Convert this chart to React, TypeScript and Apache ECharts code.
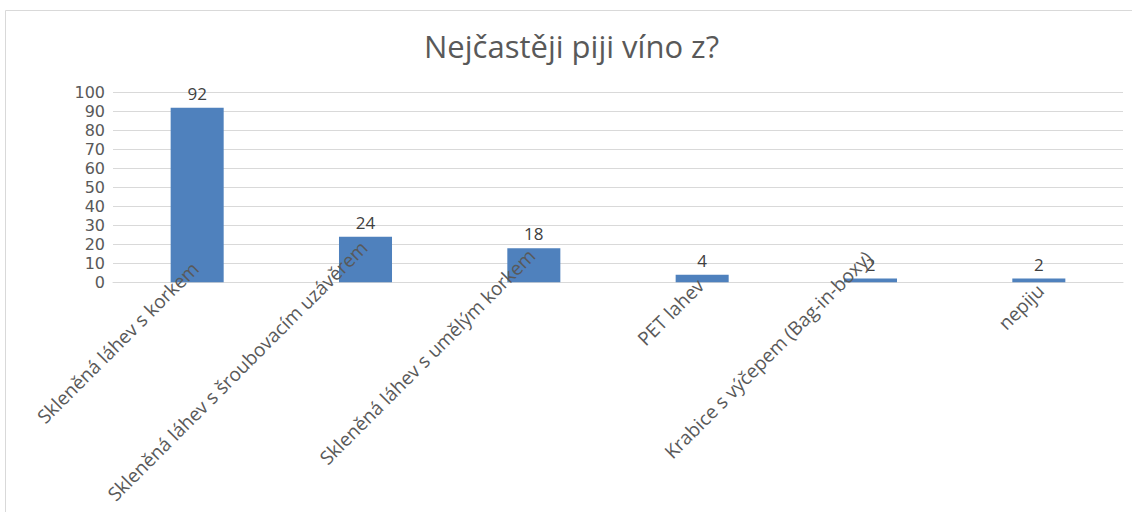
import React, { useEffect, useRef } from "react";
import * as echarts from "echarts";

const chartTitle = "Nejčastěji piji víno z?";
const categories = [
  "Skleněná láhev s korkem",
  "Skleněná láhev s šroubovacím uzávěrem",
  "Skleněná láhev s umělým korkem",
  "PET lahev",
  "Krabice s výčepem (Bag-in-boxy)",
  "nepiju",
];
const values = [92, 24, 18, 4, 2, 2];
const yMin = 0;
const yMax = 100;
const yStep = 10;

// layout: where each rotated category label ends, relative to its tick on the axis (px)
const labelDx = [-2, -1.5, -2, -1.6, -2, 1.7];
const labelDy = [-17, -38, -30, 0, -28, 5];

const FONT = "Open Sans";
const GREY = "#595959";

export default function App() {
  const ref = useRef<HTMLDivElement>(null);
  useEffect(() => {
    const chart = echarts.init(ref.current!, null, { renderer: "svg" });
    chart.setOption({
      animation: false,
      backgroundColor: "#ffffff",
      title: {
        text: chartTitle,
        left: 424,
        top: 30,
        padding: 0,
        textStyle: {
          fontFamily: FONT,
          fontSize: 31,
          fontWeight: "normal",
          color: GREY,
        },
      },
      graphic: [
        {
          type: "rect",
          shape: { x: 5.5, y: 10.5, width: 1200, height: 600 },
          style: { fill: "none", stroke: "#d9d9d9", lineWidth: 1 },
          silent: true,
        },
      ],
      grid: {
        left: 113,
        right: 9,
        top: 92.5,
        bottom: 229.7,
        containLabel: false,
        outerBoundsMode: "none",
      },
      xAxis: {
        type: "category",
        data: categories,
        axisLine: { show: true, lineStyle: { color: "#d9d9d9", width: 1 } },
        axisTick: { show: false },
        axisLabel: { show: false },
      },
      yAxis: {
        type: "value",
        min: yMin,
        max: yMax,
        interval: yStep,
        axisLine: { show: false },
        axisTick: { show: false },
        splitLine: { lineStyle: { color: "#d9d9d9", width: 1 } },
        axisLabel: {
          margin: 8,
          fontFamily: "DejaVu Sans",
          fontSize: 16,
          lineHeight: 15,
          color: GREY,
        },
      },
      series: [
        {
          type: "bar",
          data: values,
          barWidth: "31.5%",
          itemStyle: { color: "#4f81bd" },
          z: 2,
          label: {
            show: true,
            position: "top",
            distance: 6,
            fontFamily: FONT,
            fontSize: 17,
            color: "#404040",
          },
        },
        {
          type: "custom",
          silent: true,
          z: 10,
          clip: false,
          data: categories.map((_, i) => [i, 0]),
          renderItem: (params: any, api: any) => {
            const i = params.dataIndex;
            const p = api.coord([api.value(0), 0]);
            return {
              type: "text",
              x: p[0] + labelDx[i],
              y: p[1] + labelDy[i],
              rotation: Math.PI / 4,
              style: {
                text: categories[i],
                align: "right",
                verticalAlign: "middle",
                fontFamily: FONT,
                fontSize: 19,
                fill: GREY,
              },
            };
          },
        },
      ],
    });
    return () => chart.dispose();
  }, []);
  return (
    <div
      ref={ref}
      style={{ position: "absolute", left: 0, top: 0, width: 1132, height: 512, background: "#fff" }}
    />
  );
}
